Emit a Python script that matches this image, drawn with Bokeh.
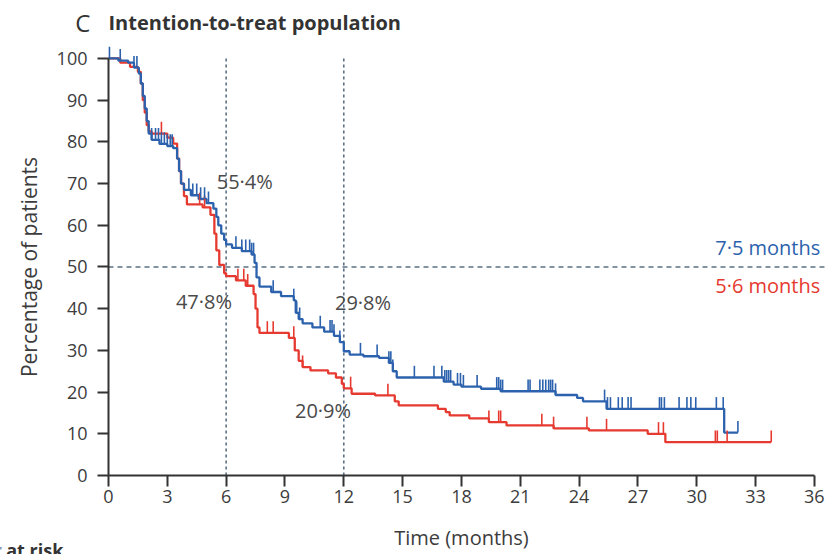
import numpy as np
from bokeh.plotting import figure
from bokeh.models import Range1d, Label, FixedTicker
from bokeh.embed import file_html
from bokeh.resources import INLINE

# ---------------- data ----------------
x_ticks = [0, 3, 6, 9, 12, 15, 18, 21, 24, 27, 30, 33, 36]
y_ticks = [0, 10, 20, 30, 40, 50, 60, 70, 80, 90, 100]

# Blue arm (median 7.5 months): event times and survival after each step
blue_t = [0, 0.5, 1.0, 1.3, 1.55, 1.65, 1.75, 1.85, 1.95, 2.05, 2.2, 2.6, 3.0, 3.3, 3.5, 3.6,
          3.7, 3.85, 4.2, 4.6, 5.0, 5.35, 5.5, 5.6, 5.75, 5.9, 6.0, 6.3, 6.8, 7.3, 7.45, 7.55,
          7.7, 8.3, 8.8, 9.45, 9.55, 9.7, 9.9, 10.4, 11.0, 11.5, 11.8, 12.0, 12.3, 13.0, 13.8,
          14.3, 14.5, 14.7, 17.1, 17.6, 18.0, 19.0, 20.0, 22.8, 23.9, 24.2, 25.4, 31.4, 32.1]
blue_s = [100, 99.5, 99, 97.8, 96.4, 94, 91, 88, 85, 82, 80.5, 79.5, 79, 78.5, 76, 73,
          70, 68.5, 67.2, 66.3, 65.3, 64, 62, 60, 58, 56.5, 55.4, 54.6, 53.8, 53, 51, 47.5,
          45.3, 44, 43, 42, 39, 37.5, 36.5, 35.5, 34.5, 33.5, 32, 29.8, 29, 28.6, 28.2,
          27, 25, 23.5, 22.5, 21.8, 21.3, 20.8, 20.2, 19.3, 18.6, 17.8, 16.0, 10.3, 10.3]

# Red arm (median 5.6 months)
red_t = [0, 0.6, 1.1, 1.5, 1.65, 1.75, 1.85, 1.95, 2.05, 2.2, 3.0, 3.3, 3.5, 3.6, 3.7, 3.85,
         4.0, 4.8, 5.2, 5.4, 5.5, 5.65, 5.9, 6.0, 6.5, 7.0, 7.4, 7.5, 7.6, 7.7, 9.2, 9.5,
         9.7, 9.9, 10.3, 11.2, 11.6, 11.9, 12.0, 12.4, 13.6, 14.6, 14.8, 16.8, 17.2, 17.4,
         18.4, 19.4, 20.3, 22.7, 24.5, 27.5, 28.4, 33.8]
red_s = [100, 99, 98, 96.8, 94, 90, 87, 84, 82.5, 82, 81, 79.6, 76, 73, 70, 67,
         65, 64.3, 62.5, 58, 54, 50.5, 48.5, 47.8, 46.8, 45.5, 43.5, 40, 35.5, 34.2, 33, 30,
         27.5, 26, 25.2, 24.5, 23.5, 22, 20.9, 19.6, 19.2, 17.8, 16.8, 16, 15.2, 14.4,
         13.7, 12.8, 12, 11.3, 10.8, 10, 8, 8]

# Censoring times
blue_cens = [0.05, 0.6, 1.3, 1.45, 2.2, 2.4, 2.55, 2.7, 2.85, 3.0, 3.15, 3.25,
             4.1, 4.3, 4.5, 4.7, 4.9, 5.1, 6.5, 6.8, 7.0, 7.2, 7.3, 7.4, 8.4,
             9.45, 9.6, 9.75, 10.8, 11.3, 11.4, 11.5, 11.8, 12.85, 13.7, 14.3, 14.4, 14.5,
             15.6, 16.6, 17.0, 17.15, 17.25, 17.35, 17.45, 17.8, 17.95, 18.1, 18.8,
             19.8, 19.9, 20.0, 20.1, 21.4, 21.5, 22.0, 22.15, 22.3, 22.45, 22.55, 22.65, 22.8,
             25.3, 25.45, 25.6, 26.0, 26.2, 26.5, 26.65, 28.1, 28.2, 28.35, 29.1, 29.5,
             29.7, 29.95, 31.0, 31.35, 32.1]
red_cens = [2.7, 4.65, 4.9, 6.6, 6.9, 7.1, 8.1, 8.4, 9.45, 9.9, 12.35, 14.25, 19.4, 19.9,
            20.0, 22.1, 22.7, 24.4, 25.4, 28.05, 28.3, 30.95, 31.05, 31.55, 33.8]

milestones = [6, 12]
median_level = 50
blue_notes = ["55·4%", "29·8%"]
red_notes = ["47·8%", "20·9%"]
blue_median_label = "7·5 months"
red_median_label = "5·6 months"

BLUE = "#2c62ad"
RED = "#e63a30"
DASH = "#5a7084"
TXT = "#3c3c3c"
FONT = "Open Sans"


def surv_at(times, surv, t):
    times = np.asarray(times)
    surv = np.asarray(surv)
    idx = np.searchsorted(times, np.asarray(t), side="right") - 1
    return surv[np.clip(idx, 0, len(surv) - 1)]


X0, X1 = -5.507, 36.72
Y0, Y1 = -18.94, 113.9

p = figure(width=828, height=554, output_backend="svg", toolbar_location=None,
           x_range=Range1d(X0, X1), y_range=Range1d(Y0, Y1),
           min_border_left=0, min_border_right=0, min_border_top=0, min_border_bottom=0)
p.outline_line_color = None
p.grid.visible = False
p.background_fill_color = "white"
p.border_fill_color = "white"

# reference lines
p.segment(x0=milestones, y0=[0] * len(milestones), x1=milestones, y1=[100] * len(milestones),
          line_color=DASH, line_width=1.6, line_dash="3 3")
p.segment(x0=[0], y0=[median_level], x1=[36.6], y1=[median_level],
          line_color=DASH, line_width=1.6, line_dash="5 4")

# curves
p.step(red_t, red_s, mode="after", line_color=RED, line_width=2.3)
p.step(blue_t, blue_s, mode="after", line_color=BLUE, line_width=2.3)

rc_y = surv_at(red_t, red_s, red_cens)
bc_y = surv_at(blue_t, blue_s, blue_cens)
p.segment(x0=red_cens, y0=rc_y, x1=red_cens, y1=rc_y + 2.8, line_color=RED, line_width=1.6)
p.segment(x0=blue_cens, y0=bc_y, x1=blue_cens, y1=bc_y + 2.8, line_color=BLUE, line_width=1.6)

# axes, pinned at the origin inside the frame
for ax in (p.xaxis[0], p.yaxis[0]):
    ax.fixed_location = 0
    ax.axis_line_width = 2
    ax.axis_line_color = "#333333"
    ax.major_tick_line_width = 2
    ax.major_tick_line_color = "#333333"
    ax.major_tick_in = 0
    ax.major_tick_out = 11
    ax.minor_tick_line_color = None
    ax.major_label_text_font = FONT
    ax.major_label_text_font_size = "18px"
    ax.major_label_text_color = TXT
    ax.axis_label_text_font = FONT
    ax.axis_label_text_font_style = "normal"
    ax.axis_label_text_color = TXT

p.xaxis.ticker = FixedTicker(ticks=x_ticks)
p.yaxis.ticker = FixedTicker(ticks=y_ticks)
p.xaxis.bounds = (0, 36)
p.yaxis.bounds = (0, 100)
p.xaxis.axis_label = "Time (months)"
p.yaxis.axis_label = "Percentage of patients"
p.xaxis.axis_label_text_font_size = "20px"
p.yaxis.axis_label_text_font_size = "21px"
p.xaxis.major_label_standoff = 3
p.yaxis.major_label_standoff = 10
p.xaxis.axis_label_standoff = 18
p.yaxis.axis_label_standoff = 11

# annotations
note_pos = [(6.95, 70.6), (12.98, 41.6)]
for (x, y), t in zip(note_pos, blue_notes):
    p.add_layout(Label(x=x, y=y, text=t, text_align="center", text_baseline="middle",
                       text_font=FONT, text_font_size="20px", text_color="#4a4a4a"))
note_pos_r = [(4.87, 41.7), (10.94, 15.6)]
for (x, y), t in zip(note_pos_r, red_notes):
    p.add_layout(Label(x=x, y=y, text=t, text_align="center", text_baseline="middle",
                       text_font=FONT, text_font_size="20px", text_color="#4a4a4a"))

p.add_layout(Label(x=36.3, y=54.7, text=blue_median_label, text_align="right", text_baseline="middle",
                   text_font=FONT, text_font_size="20px", text_color=BLUE))
p.add_layout(Label(x=36.3, y=45.6, text=red_median_label, text_align="right", text_baseline="middle",
                   text_font=FONT, text_font_size="20px", text_color=RED))

# panel title
p.add_layout(Label(x=-1.7, y=108.7, text="C", text_align="left", text_baseline="middle",
                   text_font=FONT, text_font_size="24px", text_color="#333333"))
p.add_layout(Label(x=0, y=108.7, text="Intention-to-treat population", text_align="left",
                   text_baseline="middle", text_font=FONT, text_font_size="20px",
                   text_font_style="bold", text_color="#333333"))
# caption at the bottom edge (cut off in the original panel)
p.add_layout(Label(x=-2.3, y=-15.0, text="Number at risk", text_align="right", text_baseline="top",
                   text_font=FONT, text_font_size="18px", text_font_style="bold", text_color="#333333"))

open("out.html", "w").write(file_html(p, INLINE))
